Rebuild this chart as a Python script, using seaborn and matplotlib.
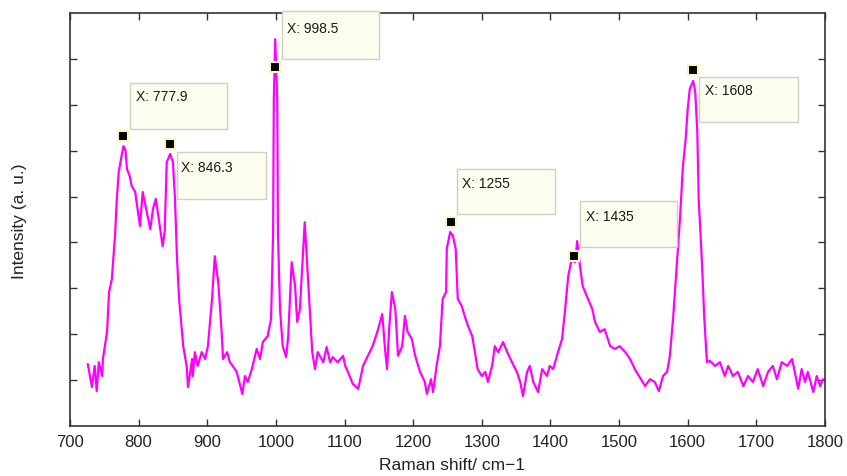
import matplotlib
matplotlib.use("Agg")
import matplotlib.pyplot as plt
import matplotlib.transforms as mtransforms
from matplotlib.patches import Rectangle
import seaborn as sns

# === spectrum ===
raman_shift = [726, 732, 736, 739, 742, 747, 748, 754, 757, 761, 766, 768, 771, 776, 778, 781,
               783, 787, 790, 795, 802, 806, 812, 817, 821, 825, 828, 835, 838, 841, 846, 850,
               853, 856, 859, 865, 870, 872, 878, 879, 882, 886, 892, 897, 901, 907, 911, 916,
               921, 923, 929, 933, 937, 943, 951, 955, 959, 965, 972, 977, 981, 988, 993, 996,
               997, 999, 1002, 1003, 1006, 1010, 1015, 1018, 1023, 1028, 1031, 1035, 1042, 1047,
               1053, 1057, 1061, 1069, 1074, 1079, 1083, 1090, 1098, 1101, 1105, 1112, 1120, 1127,
               1134, 1141, 1149, 1155, 1159, 1162, 1165, 1169, 1174, 1178, 1184, 1188, 1192, 1198,
               1203, 1210, 1217, 1220, 1226, 1229, 1235, 1239, 1243, 1248, 1249, 1254, 1258, 1262,
               1265, 1271, 1275, 1280, 1286, 1290, 1294, 1300, 1305, 1309, 1315, 1319, 1324, 1331,
               1337, 1344, 1351, 1356, 1360, 1366, 1370, 1375, 1382, 1388, 1395, 1399, 1404, 1411,
               1417, 1421, 1426, 1431, 1436, 1439, 1443, 1447, 1453, 1461, 1465, 1472, 1479, 1487,
               1494, 1501, 1509, 1516, 1523, 1529, 1538, 1545, 1552, 1558, 1564, 1570, 1574, 1579,
               1584, 1589, 1593, 1597, 1600, 1603, 1608, 1611, 1614, 1616, 1621, 1624, 1628, 1632,
               1640, 1647, 1654, 1659, 1666, 1673, 1681, 1688, 1695, 1702, 1710, 1717, 1724, 1730,
               1737, 1745, 1752, 1756, 1761, 1766, 1771, 1775, 1783, 1788, 1793, 1797]
intensity = [1.35, 0.85, 1.31, 0.76, 1.39, 1.09, 1.46, 2.05, 2.92, 3.20, 4.23, 4.88, 5.53, 5.95, 6.10, 6.00,
             5.60, 5.45, 5.23, 5.10, 4.36, 5.10, 4.66, 4.29, 4.73, 4.95, 4.66, 3.92, 4.23, 5.75, 5.93, 5.75,
             4.95, 3.64, 2.77, 1.74, 1.31, 0.85, 1.46, 1.09, 1.61, 1.31, 1.61, 1.46, 1.74, 2.77, 3.70, 3.14,
             2.05, 1.46, 1.61, 1.39, 1.31, 1.18, 0.70, 1.09, 0.96, 1.24, 1.68, 1.46, 1.83, 1.96, 2.33, 4.23,
             7.12, 8.43, 7.12, 4.23, 2.55, 1.74, 1.50, 1.96, 3.57, 3.05, 2.27, 2.55, 4.44, 3.14,
             1.61, 1.24, 1.61, 1.39, 1.72, 1.39, 1.50, 1.39, 1.53, 1.31, 1.18, 0.92, 0.81, 1.31,
             1.53, 1.74, 2.11, 2.44, 1.68, 1.24, 2.11, 2.92, 2.55, 1.53, 1.74, 2.40, 2.05, 1.90,
             1.53, 1.18, 0.96, 0.70, 1.02, 0.74, 1.39, 1.74, 2.77, 2.92, 3.86, 4.23, 4.14, 3.86,
             2.77, 2.61, 2.40, 2.18, 1.96, 1.61, 1.24, 1.09, 1.18, 0.96, 1.31, 1.74, 1.61, 1.83,
             1.61, 1.39, 1.18, 0.96, 0.65, 1.18, 1.31, 0.96, 0.74, 1.24, 1.09, 1.31, 1.24, 1.61,
             1.90, 2.48, 3.27, 3.64, 3.57, 4.03, 3.49, 3.05, 2.83, 2.55, 2.27, 2.05, 2.11, 1.74,
             1.68, 1.74, 1.61, 1.46, 1.24, 1.09, 0.87, 1.02, 0.96, 0.76, 1.09, 1.18, 1.53, 2.40,
             3.49, 4.58, 5.66, 6.25, 6.91, 7.34, 7.52, 7.28, 6.41, 4.95, 3.49, 2.40, 1.39, 1.42,
             1.31, 1.39, 1.09, 1.31, 1.09, 1.18, 0.87, 1.09, 0.96, 1.24, 0.87, 1.18, 1.31, 1.02,
             1.39, 1.31, 1.46, 1.18, 0.81, 1.24, 0.96, 1.18, 0.74, 1.09, 0.87, 1.02]

# === data tips ===
peak_shift = [777.9, 846.3, 998.5, 1255, 1435, 1608]
peak_marker_y = [6.32, 6.14, 7.82, 4.44, 3.70, 7.76]
peak_labels = ["X: 777.9", "X: 846.3", "X: 998.5", "X: 1255", "X: 1435", "X: 1608"]

# box offsets from the marker, in inches: (x0, y0, width, height, text_x, text_y)
tip_boxes = [
    (0.07, 0.07, 0.97, 0.46, 0.13, 0.40),
    (0.07, -0.55, 0.89, 0.47, 0.11, -0.23),
    (0.07, 0.08, 0.97, 0.48, 0.12, 0.39),
    (0.06, 0.08, 0.98, 0.45, 0.11, 0.39),
    (0.06, 0.09, 0.97, 0.46, 0.12, 0.40),
    (0.06, -0.52, 0.99, 0.45, 0.12, -0.20),
]

# === plot ===
sns.set_style("ticks")
plt.rcParams["font.family"] = ["Liberation Sans", "DejaVu Sans"]

fig = plt.figure(figsize=(8.47, 4.77), dpi=100)
ax = fig.add_axes([0.0826, 0.1048, 0.8914, 0.8658])

sns.lineplot(x=raman_shift, y=intensity, color="#FF00FF", linewidth=1.6,
             estimator=None, ax=ax)

for px, py, lab, (bx, by, bw, bh, tx, ty) in zip(peak_shift, peak_marker_y, peak_labels, tip_boxes):
    ax.plot([px], [py], marker="s", ms=6.5, color="black", mec="#FFF4C0", mew=1.5,
            zorder=6, clip_on=False)
    trans = fig.dpi_scale_trans + mtransforms.ScaledTranslation(px, py, ax.transData)
    ax.add_patch(Rectangle((bx, by), bw, bh, transform=trans, facecolor="#FDFDEF",
                           edgecolor="#CFCFC2", lw=1, zorder=4, clip_on=False))
    ax.text(tx, ty, lab, transform=trans, fontsize=10, ha="left", va="center", zorder=7,
            color="#1a1a1a")

ax.set_xlim(700, 1800)
ax.set_ylim(0, 9)
ax.set_xticks(range(700, 1801, 100))
ax.set_yticks(range(1, 9))
ax.set_yticklabels([])
ax.tick_params(direction="in", top=True, right=True, length=5, width=1,
               labelsize=12, pad=6, colors="#333333", labelcolor="#222222")
for sp in ax.spines.values():
    sp.set_color("#333333")
    sp.set_linewidth(1.2)

ax.set_xlabel("Raman shift/ cm\u22121", fontsize=12.5, color="#222222")
ax.set_ylabel("Intensity (a. u.)", fontsize=12.5, color="#222222")
ax.xaxis.set_label_coords(0.506, -0.075)
ax.yaxis.set_label_coords(-0.057, 0.499)

fig.savefig("out.png", dpi=100)
